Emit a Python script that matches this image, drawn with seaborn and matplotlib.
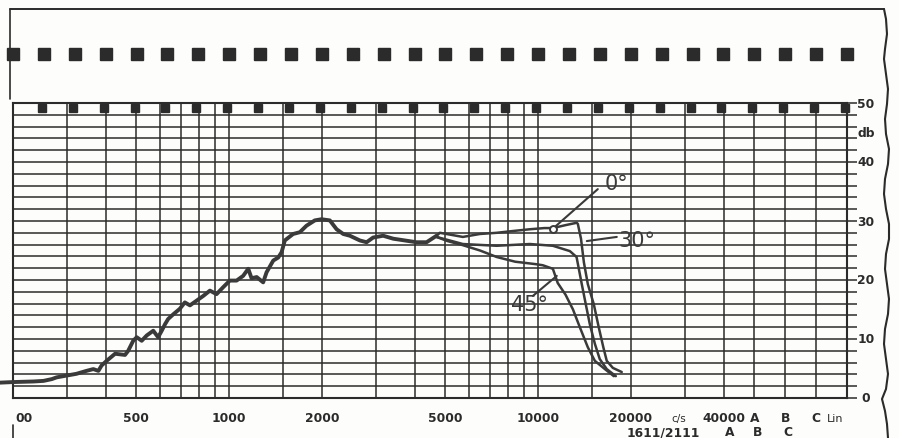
import numpy as np
import pandas as pd
import matplotlib
matplotlib.use("Agg")
import matplotlib.pyplot as plt
import matplotlib.transforms as mtransforms
from matplotlib.lines import Line2D
from matplotlib.ticker import NullLocator
import seaborn as sns

# common trace (all three angles coincide below ~4.7 kHz)
base_freq = [181, 200, 233, 251, 267, 277, 298, 321, 346, 364, 378, 387, 402, 428, 461, 472,
             490, 503, 522, 542, 569, 590, 606, 621, 636, 661, 693, 720, 748, 786, 826, 868,
             912, 959, 1007, 1059, 1112, 1155, 1184, 1230, 1291, 1324, 1392, 1444, 1481, 1517,
             1614, 1697, 1783, 1897, 1994, 2122, 2232, 2345, 2464, 2655, 2791, 2931, 3158,
             3404, 3712, 4050, 4365, 4700]
base_db = [2.6, 2.7, 2.8, 2.9, 3.2, 3.5, 3.8, 4.1, 4.6, 4.9, 4.6, 5.5, 6.3, 7.5, 7.3, 8.0,
           9.7, 10.3, 9.7, 10.6, 11.4, 10.3, 11.4, 12.5, 13.4, 14.2, 15.1, 16.2, 15.7, 16.5,
           17.3, 18.2, 17.6, 18.8, 19.9, 19.9, 20.7, 21.9, 20.3, 20.5, 19.6, 21.3, 23.3, 23.8,
           24.7, 26.7, 27.8, 28.1, 29.2, 30.1, 30.3, 30.1, 28.6, 27.8, 27.5, 26.7, 26.4, 27.2,
           27.5, 27.0, 26.7, 26.4, 26.4, 27.5]

freq_0 = [4700, 4820, 5720, 6500, 7360, 8300, 9420, 10500, 11190, 12300, 13370, 13480, 13800,
          14100, 14520, 15180, 15750, 16300, 16720, 17500, 18700]
db_0 = [27.5, 28.0, 27.3, 27.8, 28.0, 28.3, 28.6, 28.8, 28.8, 29.3, 29.7, 29.5, 27.0,
        23.0, 19.3, 15.9, 12.0, 8.6, 6.3, 5.1, 4.4]

freq_30 = [4700, 5100, 5720, 7360, 9420, 11190, 12700, 13350, 13880, 14300, 14740, 15300,
           15870, 16720, 17890]
db_30 = [27.3, 26.8, 26.1, 25.8, 26.1, 25.8, 24.9, 23.9, 19.3, 15.9, 12.5, 9.2, 6.6, 4.9, 3.7]

freq_45 = [4700, 5100, 5720, 6500, 7360, 8450, 9800, 10380, 11190, 11600, 12300, 13000, 13680,
           14520, 15300, 16490, 17630]
db_45 = [27.3, 26.6, 25.9, 25.0, 23.9, 23.1, 22.7, 22.5, 21.9, 19.5, 17.5, 15.0, 12.0,
         8.6, 6.3, 4.9, 3.7]

grid_freqs = [200, 300, 400, 500, 600, 700, 800, 900, 1000, 1500, 2000, 3000, 4000, 5000,
              6000, 7000, 8000, 9000, 10000, 15000, 20000, 30000, 40000]
col_freqs = [50200, 63200, 79600, 100240]   # A, B, C, Lin columns
x_labels = ["500", "1000", "2000", "5000", "10000", "20000", "40000"]
x_label_freqs = [500, 1000, 2000, 5000, 10000, 20000, 40000]
y_labels = [0, 10, 20, 30, 40, 50]

sns.set_style("white")
plt.rcParams['font.family'] = ['DejaVu Sans']
ink = '#2b2b2b'
trace = '#3a3a3a'

parts = [("base", base_freq, base_db), ("0", freq_0, db_0),
         ("30", freq_30, db_30), ("45", freq_45, db_45)]
df = pd.concat([pd.DataFrame({"freq": f, "db": d, "angle": n}) for n, f, d in parts])

fig = plt.figure(figsize=(8.99, 4.39), dpi=100)
fig.patch.set_facecolor('#fdfdfb')
ax = fig.add_axes([13/899, 40/439, 834/899, 295/439])
ax.set_facecolor('#fdfdfb')
ax.set_xscale('log')

sns.lineplot(data=df, x="freq", y="db", hue="angle", size="angle",
             palette={n: trace for n, _, _ in parts},
             sizes={"base": 2.8, "0": 1.8, "30": 1.8, "45": 1.8},
             estimator=None, sort=False, legend=False, ax=ax, zorder=3)
for ln in ax.lines:
    ln.set_clip_on(False)
    ln.set_solid_joinstyle('round')

ax.set_xlim(200, 100240)
ax.set_ylim(0, 50)
ax.set_xticks(grid_freqs + col_freqs)
ax.xaxis.set_minor_locator(NullLocator())
ax.set_xticklabels([])
ax.tick_params(axis='x', length=0)
ax.set_yticks(list(range(0, 51, 2)))
ax.yaxis.tick_right()
ax.tick_params(axis='y', direction='out', length=7.5, width=1.1, color=ink,
               labelright=False, left=False)
ax.grid(True, color=ink, lw=1.1)
ax.set_axisbelow(True)
ax.set_xlabel("")
ax.set_ylabel("")
for sp in ax.spines.values():
    sp.set_visible(True)
    sp.set_color(ink)
    sp.set_linewidth(1.5)

tx = mtransforms.blended_transform_factory(ax.transData, fig.transFigure)
ty = mtransforms.blended_transform_factory(fig.transFigure, ax.transData)
lab = dict(fontsize=8.8, fontweight='bold', color=ink, ha='center', va='center')

# frequency labels
fig.text(15/899, 1 - 419/439, "00", ha='left', va='center', fontsize=8.8,
         fontweight='bold', color=ink)
for f, t in zip(x_label_freqs, x_labels):
    ax.text(f, 1 - 419/439, t, transform=tx, **lab)
ax.text(28600, 1 - 419/439, "c/s", transform=tx, fontsize=7.5, color=ink,
        ha='center', va='center')
for f, t in zip(col_freqs[:3], ["A", "B", "C"]):
    ax.text(f, 1 - 419/439, t, transform=tx, **lab)
ax.text(92000, 1 - 419/439, "Lin", transform=tx, fontsize=8, color=ink,
        ha='center', va='center')
ax.text(25400, 1 - 433/439, "1611/2111", transform=tx, **lab)
for f, t in zip([41800, 51500, 64400], ["A", "B", "C"]):
    ax.text(f, 1 - 433/439, t, transform=tx, **lab)

# db labels on the right
for v in y_labels:
    ax.text(866/899, v, str(v), transform=ty, **lab)
ax.text(866/899, 45, "db", transform=ty, **lab)

# chart paper furniture: perforation row and tabs under the top edge
steps = 200 * 10 ** (0.1 * np.arange(28))
ax.plot(steps, [1 - 55/439] * len(steps), 's', ms=8, color=ink, transform=tx, clip_on=False)
ax.plot(steps[1:] * 0.985, [1 - 108.5/439] * (len(steps) - 1), 's', ms=5.8, color=ink,
        transform=tx, clip_on=False, zorder=4)
ax.set_xlim(200, 100240)


def px(x, y):
    return x / 899, 1 - y / 439


edge = [(884, 10), (886, 20), (887, 35), (885, 50), (884, 60), (886, 75), (888, 90),
        (887, 105), (885, 120), (886, 135), (889, 150), (888, 165), (885, 180), (884, 195),
        (886, 210), (889, 225), (889, 240), (886, 255), (885, 270), (887, 285), (889, 300),
        (888, 315), (885, 330), (884, 345), (886, 360), (888, 375), (886, 390), (882, 400),
        (885, 412), (887, 425), (888, 439)]
fig.add_artist(Line2D([px(*p)[0] for p in edge], [px(*p)[1] for p in edge],
                      color=ink, lw=1.5, transform=fig.transFigure, solid_joinstyle='round'))
fig.add_artist(Line2D([10/899, 884/899], [1 - 10/439, 1 - 10/439], color=ink, lw=1.4,
                      transform=fig.transFigure))
fig.add_artist(Line2D([10/899, 10/899], [1 - 10/439, 1 - 100/439], color=ink, lw=1.2,
                      transform=fig.transFigure))
fig.add_artist(Line2D([13/899, 13/899], [1 - 426/439, 0], color=ink, lw=1.2,
                      transform=fig.transFigure))

# angle annotations
ax.plot([11190], [28.7], 'o', ms=5, mfc='white', mec=trace, mew=1.4, zorder=5)
ax.plot([11360, 15640], [29.0, 35.4], color=trace, lw=1.5, zorder=4)
ax.plot([14410, 18020], [26.6, 27.3], color=trace, lw=1.5, zorder=4)
ax.plot([11520, 9640], [20.7, 17.3], color=trace, lw=1.5, zorder=4)
ax.text(16480, 36.4, "0°", fontsize=15, color=trace, ha='left', va='center')
ax.text(18300, 26.8, "30°", fontsize=15, color=trace, ha='left', va='center')
ax.text(9420, 15.9, "45°", fontsize=15, color=trace, ha='center', va='center')

fig.savefig("out.png", dpi=100, facecolor=fig.get_facecolor())
